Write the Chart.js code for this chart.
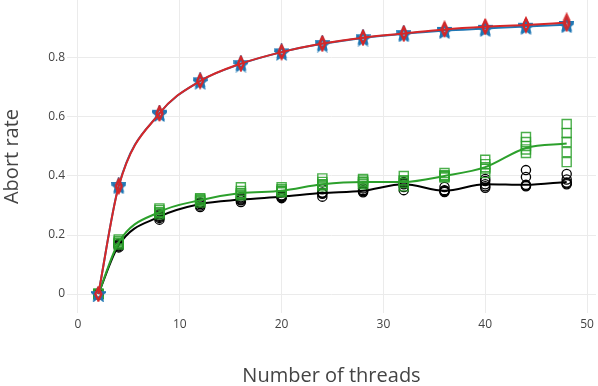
<!DOCTYPE html>
<html><head><meta charset="utf-8">
<script src="https://cdn.jsdelivr.net/npm/chart.js@4/dist/chart.umd.min.js"></script>
<style>html,body{margin:0;padding:0;background:#fff}</style>
</head><body>
<canvas id="c" width="598" height="386"></canvas>
<script>
// ---- data ----
const threads = [2, 4, 8, 12, 16, 20, 24, 28, 32, 36, 40, 44, 48];
const xTicks = [0, 10, 20, 30, 40, 50];
const yTicks = [0, 0.2, 0.4, 0.6, 0.8];
const yTickLabels = ["0", "0.2", "0.4", "0.6", "0.8"];
const xTitle = "Number of threads";
const yTitle = "Abort rate";

// central lines
const blueLine  = [0, 0.367, 0.612, 0.722, 0.780, 0.820, 0.848, 0.868, 0.882, 0.893, 0.900, 0.907, 0.913];
const redLine   = [0, 0.365, 0.612, 0.722, 0.781, 0.820, 0.849, 0.869, 0.883, 0.897, 0.906, 0.912, 0.920];
const blackLine = [0, 0.165, 0.262, 0.305, 0.320, 0.330, 0.342, 0.350, 0.372, 0.350, 0.372, 0.370, 0.380];
const greenLine = [0, 0.175, 0.278, 0.318, 0.342, 0.350, 0.372, 0.380, 0.380, 0.400, 0.430, 0.495, 0.510];

// individual runs
const blueRun1 = [0, 0.363, 0.608, 0.718, 0.776, 0.816, 0.844, 0.864, 0.878, 0.889, 0.896, 0.903, 0.909];
const blueRun2 = [0, 0.367, 0.612, 0.722, 0.780, 0.820, 0.848, 0.868, 0.882, 0.893, 0.900, 0.907, 0.913];
const blueRun3 = [0, 0.371, 0.616, 0.726, 0.784, 0.824, 0.852, 0.872, 0.886, 0.897, 0.904, 0.911, 0.917];

const redRun1 = [0, 0.362, 0.610, 0.720, 0.779, 0.818, 0.847, 0.867, 0.881, 0.895, 0.904, 0.910, 0.914];
const redRun2 = [0, 0.365, 0.612, 0.722, 0.781, 0.820, 0.849, 0.869, 0.883, 0.897, 0.906, 0.912, 0.920];
const redRun3 = [0, 0.369, 0.615, 0.725, 0.784, 0.823, 0.852, 0.872, 0.886, 0.900, 0.909, 0.915, 0.928];

const blackRun1 = [0, 0.158, 0.252, 0.295, 0.312, 0.325, 0.330, 0.345, 0.352, 0.346, 0.360, 0.365, 0.372];
const blackRun2 = [0, 0.165, 0.262, 0.305, 0.320, 0.330, 0.342, 0.350, 0.363, 0.350, 0.372, 0.370, 0.378];
const blackRun3 = [0, 0.170, 0.270, 0.310, 0.328, 0.335, 0.355, 0.358, 0.380, 0.363, 0.383, 0.397, 0.388];
const blackRun4 = [0, 0.162, 0.258, 0.300, 0.318, 0.328, 0.340, 0.348, 0.372, 0.348, 0.390, 0.420, 0.407];
const blackRun5 = [0, 0.168, 0.265, 0.308, 0.324, 0.332, 0.344, 0.352, 0.375, 0.352, 0.365, 0.368, 0.375];

const greenRun1 = [0, 0.168, 0.270, 0.310, 0.335, 0.345, 0.365, 0.372, 0.365, 0.395, 0.410, 0.478, 0.447];
const greenRun2 = [0, 0.175, 0.278, 0.318, 0.342, 0.350, 0.372, 0.380, 0.376, 0.400, 0.425, 0.490, 0.481];
const greenRun3 = [0, 0.180, 0.285, 0.322, 0.349, 0.355, 0.380, 0.385, 0.386, 0.403, 0.440, 0.502, 0.515];
const greenRun4 = [0, 0.185, 0.290, 0.325, 0.362, 0.362, 0.392, 0.390, 0.400, 0.410, 0.455, 0.515, 0.546];
const greenRun5 = [0, 0.172, 0.275, 0.315, 0.340, 0.348, 0.370, 0.378, 0.382, 0.398, 0.430, 0.532, 0.576];

// ---- styles ----
const BLUE = '#1f77b4', RED = '#d62728', GREEN = '#2ca02c', BLACK = '#000000';
const FONT = '"Open Sans", "DejaVu Sans", sans-serif';

function makeStar(color) {
  const c = document.createElement('canvas'); c.width = 15; c.height = 15;
  const g = c.getContext('2d'); g.strokeStyle = color; g.lineWidth = 1.6; g.lineJoin = 'miter';
  g.beginPath();
  for (let i = 0; i < 10; i++) {
    const r = i % 2 === 0 ? 6.6 : 2.8;
    const a = -Math.PI / 2 + i * Math.PI / 5;
    const px = 7.5 + r * Math.cos(a), py = 7.8 + r * Math.sin(a);
    i === 0 ? g.moveTo(px, py) : g.lineTo(px, py);
  }
  g.closePath(); g.stroke();
  return c;
}
function makeTallDiamond(color) {
  const c = document.createElement('canvas'); c.width = 10; c.height = 16;
  const g = c.getContext('2d'); g.strokeStyle = color; g.lineWidth = 1.4;
  g.beginPath(); g.moveTo(5, 1.5); g.lineTo(8, 8); g.lineTo(5, 14.5); g.lineTo(2, 8); g.closePath(); g.stroke();
  return c;
}
const starImg = makeStar(BLUE);
const diamondImg = makeTallDiamond(RED);

const pts = arr => threads.map((t, i) => ({x: t, y: arr[i]}));

function lineDs(arr, color) {
  return {type: 'line', data: pts(arr), borderColor: color, borderWidth: 2, pointRadius: 0,
          cubicInterpolationMode: 'monotone', fill: false};
}
function markerDs(arr, color, style, radius, bw) {
  return {type: 'scatter', data: pts(arr), showLine: false, pointStyle: style, pointRadius: radius,
          borderColor: color, backgroundColor: 'rgba(0,0,0,0)', pointBorderWidth: bw, borderWidth: bw};
}

// first dataset is drawn on top
const datasets = [
  lineDs(redLine, RED),
  markerDs(redRun1, RED, diamondImg, 6), markerDs(redRun2, RED, diamondImg, 6), markerDs(redRun3, RED, diamondImg, 6),
  lineDs(blueLine, BLUE),
  markerDs(blueRun1, BLUE, starImg, 6), markerDs(blueRun2, BLUE, starImg, 6), markerDs(blueRun3, BLUE, starImg, 6),
  lineDs(greenLine, GREEN),
  markerDs(greenRun1, 'rgba(44,160,44,0.85)', 'rect', 6.4, 1.4),
  markerDs(greenRun2, 'rgba(44,160,44,0.85)', 'rect', 6.4, 1.4),
  markerDs(greenRun3, 'rgba(44,160,44,0.85)', 'rect', 6.4, 1.4),
  markerDs(greenRun4, 'rgba(44,160,44,0.85)', 'rect', 6.4, 1.4),
  markerDs(greenRun5, 'rgba(44,160,44,0.85)', 'rect', 6.4, 1.4),
  lineDs(blackLine, BLACK),
  markerDs(blackRun1, BLACK, 'circle', 4.6, 1.3),
  markerDs(blackRun2, BLACK, 'circle', 4.6, 1.3),
  markerDs(blackRun3, BLACK, 'circle', 4.6, 1.3),
  markerDs(blackRun4, BLACK, 'circle', 4.6, 1.3),
  markerDs(blackRun5, BLACK, 'circle', 4.6, 1.3),
];

new Chart(document.getElementById('c'), {
  data: {datasets},
  options: {
    responsive: false, animation: false, devicePixelRatio: 1,
    events: [],
    layout: {autoPadding: false, padding: {top: 0, right: 2, left: 0, bottom: 0}},
    plugins: {legend: {display: false}, tooltip: {enabled: false}},
    scales: {
      x: {
        type: 'linear', min: -1.08, max: 50.88,
        afterFit: s => { s.height = 73; s.paddingLeft = 0; s.paddingRight = 0; s.paddingTop = 0; s.paddingBottom = 0; },
        afterBuildTicks: s => { s.ticks = xTicks.map(v => ({value: v})); },
        border: {display: false},
        grid: {color: '#ebebeb', lineWidth: 1, drawTicks: false},
        ticks: {padding: 4, color: '#444', font: {family: FONT, size: 12}, maxRotation: 0,
                callback: v => String(v)},
        title: {display: true, text: xTitle, color: '#444', font: {family: FONT, size: 20, lineHeight: 1.2},
                padding: {top: 0, bottom: -2}}
      },
      y: {
        type: 'linear', min: -0.0644, max: 0.9966,
        afterFit: s => { s.width = 67; s.paddingLeft = 0; s.paddingRight = 0; s.paddingTop = 0; s.paddingBottom = 0; },
        afterBuildTicks: s => { s.ticks = yTicks.map(v => ({value: v})); },
        border: {display: false},
        grid: {color: '#ebebeb', lineWidth: 1, drawTicks: false},
        ticks: {padding: 2, color: '#444', font: {family: FONT, size: 12},
                callback: v => { const i = yTicks.findIndex(t => Math.abs(t - v) < 1e-9); return i >= 0 ? yTickLabels[i] : ''; }},
        title: {display: true, text: yTitle, color: '#444', font: {family: FONT, size: 20, lineHeight: 1.2},
                padding: {top: 0, bottom: 0}}
      }
    }
  }
});
</script>
</body></html>
